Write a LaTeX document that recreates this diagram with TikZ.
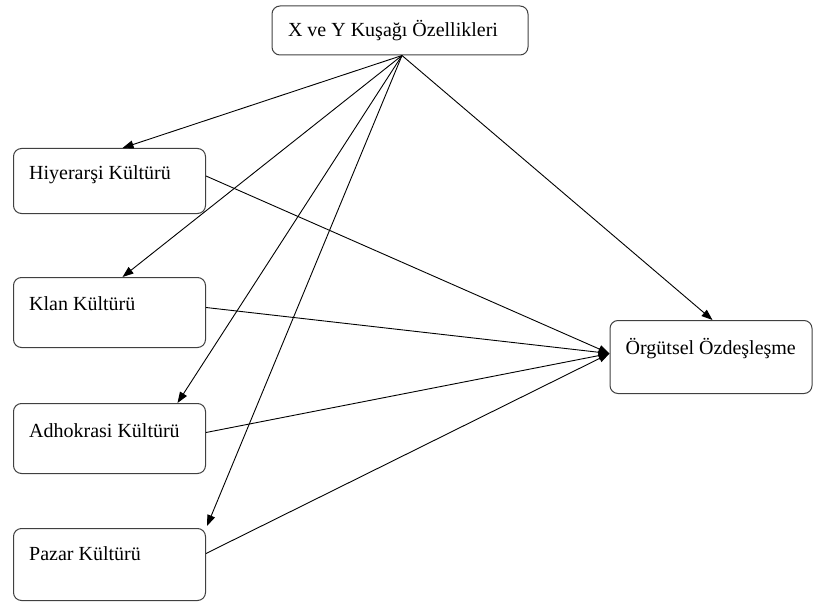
\documentclass[tikz,border=0pt]{standalone}
\usepackage{fontspec}
\setmainfont{Liberation Serif}
\usetikzlibrary{arrows.meta}
\begin{document}
\begin{tikzpicture}[x=1pt,y=-1pt,
  box/.style={draw=black!75, line width=1pt, rounded corners=8pt, inner sep=0pt},
  lbl/.style={font=\fontsize{20}{24}\selectfont, inner sep=0pt, anchor=west, text height=14pt, text depth=4pt},
  conn/.style={draw=black, line width=0.9pt, -{Triangle[length=11pt,width=8pt]}}]
\useasboundingbox (0,0) rectangle (813,604);
\node[box, minimum width=256pt, minimum height=49pt, font=\fontsize{20}{24}\selectfont] (t) at (400,30.5) {X ve Y Kuşağı Özellikleri\hspace*{14pt}};
\node[box, minimum width=192pt, minimum height=65pt, anchor=north west] (h) at (13,148) {};
\node[box, minimum width=192pt, minimum height=70pt, anchor=north west] (k) at (13,277) {};
\node[box, minimum width=192pt, minimum height=70pt, anchor=north west] (a) at (13,403) {};
\node[box, minimum width=192pt, minimum height=72pt, anchor=north west] (p) at (13,528) {};
\node[box, minimum width=202pt, minimum height=73pt, anchor=north west] (o) at (609.5,320) {};
\node[lbl] (hl) at ([xshift=16pt,yshift=-26pt]h.north west) {Hiyerarşi Kültürü};
\node[lbl] (kl) at ([xshift=16pt,yshift=-28pt]k.north west) {Klan Kültürü};
\node[lbl] (al) at ([xshift=16pt,yshift=-29pt]a.north west) {Adhokrasi Kültürü};
\node[lbl] (pl) at ([xshift=16pt,yshift=-27pt]p.north west) {Pazar Kültürü};
\node[lbl] (ol) at ([xshift=16pt,yshift=-29pt]o.north west) {Örgütsel Özdeşleşme};
\coordinate (src) at ([xshift=2pt]t.south);
\coordinate (ot) at ([yshift=3.5pt]o.west);
\draw[conn] (src) -- ([xshift=13pt]h.north);
\draw[conn] (src) -- ([xshift=13pt]k.north);
\draw[conn] (src) -- ([xshift=68pt]a.north);
\draw[conn] (src) -- ([xshift=1pt,yshift=2pt]p.north east);
\draw[conn] (src) -- ([xshift=1.5pt]o.north);
\draw[conn] ([yshift=5pt]h.east) -- (ot);
\draw[conn] ([yshift=5pt]k.east) -- (ot);
\draw[conn] ([yshift=6pt]a.east) -- (ot);
\draw[conn] ([yshift=11pt]p.east) -- (ot);
\end{tikzpicture}
\end{document}
